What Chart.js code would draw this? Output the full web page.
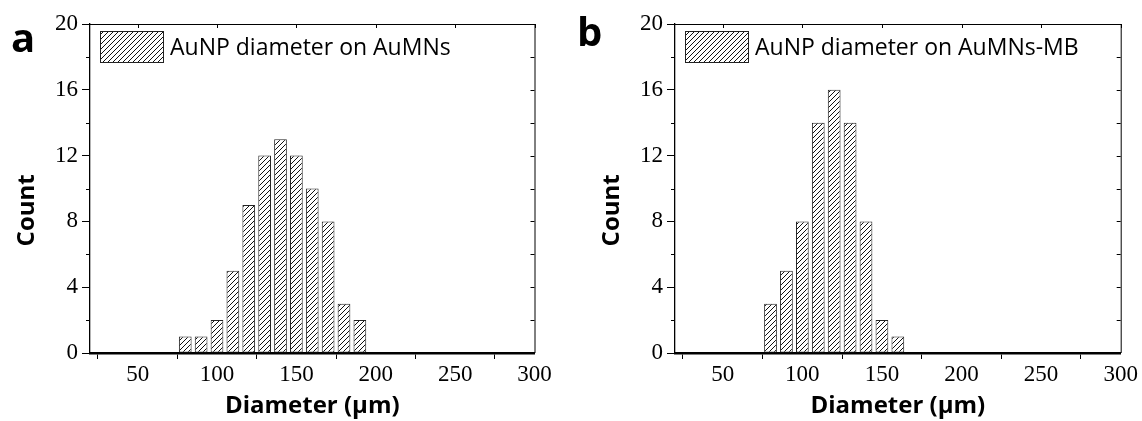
<!DOCTYPE html>
<html><head><meta charset="utf-8">
<script src="https://cdn.jsdelivr.net/npm/chart.js@4.4.1/dist/chart.umd.min.js"></script>
<style>
html,body{margin:0;padding:0;background:#fff;}
#wrap{position:relative;width:1142px;height:421px;overflow:hidden;background:#fff;}
canvas{position:absolute;top:0;}
.lbl{position:absolute;font-family:'Open Sans';font-weight:700;font-size:40px;line-height:40px;color:#000;}
</style></head><body>
<div id="wrap">
<canvas id="ca" width="571" height="421" style="left:0"></canvas>
<canvas id="cb" width="571" height="421" style="left:571px"></canvas>
<div class="lbl" style="left:11px;top:17px">a</div>
<div class="lbl" style="left:577px;top:11px">b</div>
</div>
<script>
// ---- data ----
const binsA = [80, 90, 100, 110, 120, 130, 140, 150, 160, 170, 180, 190];
const countsA = [1, 1, 2, 5, 9, 12, 13, 12, 10, 8, 3, 2];
const binsB = [80, 90, 100, 110, 120, 130, 140, 150, 160];
const countsB = [3, 5, 8, 14, 16, 14, 8, 2, 1];
const xTickValues = [50, 100, 150, 200, 250, 300];
const yTickValues = [0, 4, 8, 12, 16, 20];
const yMinorValues = [2, 6, 10, 14, 18];
const yAllTicks = [0, 2, 4, 6, 8, 10, 12, 14, 16, 18, 20];
const xMin = 20, xMax = 300, yMin = 0, yMax = 20;
const labelA = 'AuNP diameter on AuMNs';
const labelB = 'AuNP diameter on AuMNs-MB';
const xTitle = 'Diameter (\u03bcm)';
const yTitle = 'Count' + '\u00a0\u00a0\u00a0\u00a0\u00a0\u00a0\u00a0';

Chart.defaults.color = '#000';

function makePattern(ctx) {
  const s = 5;
  const c = document.createElement('canvas');
  c.width = s; c.height = s;
  const g = c.getContext('2d');
  g.fillStyle = '#fff'; g.fillRect(0, 0, s, s);
  g.strokeStyle = '#111'; g.lineWidth = 1;
  g.beginPath();
  g.moveTo(0, s); g.lineTo(s, 0);
  g.moveTo(-1, 1); g.lineTo(1, -1);
  g.moveTo(s - 1, s + 1); g.lineTo(s + 1, s - 1);
  g.stroke();
  return ctx.createPattern(c, 'repeat');
}

const framePlugin = {
  id: 'frame',
  afterDatasetsDraw(chart) {
    const {ctx, chartArea: {left, right, top, bottom}, scales: {x, y}} = chart;
    ctx.save();
    ctx.strokeStyle = '#000';
    ctx.lineWidth = 1;
    ctx.beginPath();
    ctx.moveTo(left, top + 0.5); ctx.lineTo(right + 0.5, top + 0.5); ctx.lineTo(right + 0.5, bottom);
    xTickValues.forEach(v => {
      const px = Math.round(x.getPixelForValue(v)) + 0.5;
      ctx.moveTo(px, top); ctx.lineTo(px, top + 4);
    });
    yAllTicks.forEach(v => {
      const py = Math.round(y.getPixelForValue(v)) + 0.5;
      ctx.moveTo(right, py); ctx.lineTo(right - 4, py);
    });
    yMinorValues.forEach(v => {
      const py = Math.round(y.getPixelForValue(v)) + 0.5;
      ctx.moveTo(left, py); ctx.lineTo(left - 4, py);
    });
    ctx.stroke();

    // legend inside the plot area
    const ds = chart.data.datasets[0];
    const bx = left + 10, by = top + 7, bw = 63, bh = 31;
    ctx.fillStyle = ds.backgroundColor;
    ctx.fillRect(bx, by, bw, bh);
    ctx.strokeStyle = '#222';
    ctx.strokeRect(bx + 0.5, by + 0.5, bw, bh);
    ctx.fillStyle = '#000';
    ctx.font = '23px "Open Sans"';
    ctx.textBaseline = 'alphabetic';
    ctx.textAlign = 'left';
    ctx.fillText(ds.label, bx + bw + 7, by + 24);
    ctx.restore();
  }
};

function makeChart(id, bins, counts, label, padRight, yWidth, yTitlePad) {
  const ctx = document.getElementById(id).getContext('2d');
  const pat = makePattern(ctx);
  return new Chart(ctx, {
    type: 'bar',
    data: {
      datasets: [{
        label: label,
        data: bins.map((b, i) => ({x: b, y: counts[i]})),
        backgroundColor: pat,
        borderColor: '#222',
        borderWidth: 1,
        borderSkipped: false,
        categoryPercentage: 1,
        barPercentage: 0.8
      }]
    },
    options: {
      responsive: false,
      animation: false,
      devicePixelRatio: 1,
      layout: {padding: {left: 0, top: 24, right: padRight, bottom: 0}},
      plugins: {
        legend: {display: false},
        tooltip: {enabled: false}
      },
      scales: {
        x: {
          type: 'linear', min: xMin, max: xMax, offset: false,
          afterBuildTicks: s => { s.ticks = xTickValues.map(v => ({value: v})); },
          afterFit: s => { s.height = 68; },
          grid: {drawOnChartArea: false, tickLength: 6, tickColor: '#000', tickWidth: 1},
          border: {color: '#000', width: 2.5},
          ticks: {color: '#000', padding: 2, maxRotation: 0, autoSkip: false,
                  font: {family: 'Liberation Serif', size: 23}},
          title: {display: true, text: xTitle, color: '#000',
                  font: {family: 'Open Sans', weight: 'bold', size: 24},
                  padding: {top: 0, bottom: 0}}
        },
        y: {
          type: 'linear', min: yMin, max: yMax,
          afterBuildTicks: s => { s.ticks = yTickValues.map(v => ({value: v})); },
          afterFit: s => { s.width = yWidth; },
          grid: {drawOnChartArea: false, tickLength: 8, tickColor: '#000', tickWidth: 1},
          border: {color: '#000', width: 1.3},
          ticks: {color: '#000', padding: 4, font: {family: 'Liberation Serif', size: 23}},
          title: {display: true, text: yTitle, color: '#000',
                  font: {family: 'Open Sans', weight: 'bold', size: 24},
                  padding: {top: yTitlePad, bottom: 0}}
        }
      }
    },
    plugins: [framePlugin]
  });
}

makeChart('ca', binsA, countsA, labelA, 36.5, 90, 13);
makeChart('cb', binsB, countsB, labelB, 21.3, 104, 27);
</script>
</body></html>
